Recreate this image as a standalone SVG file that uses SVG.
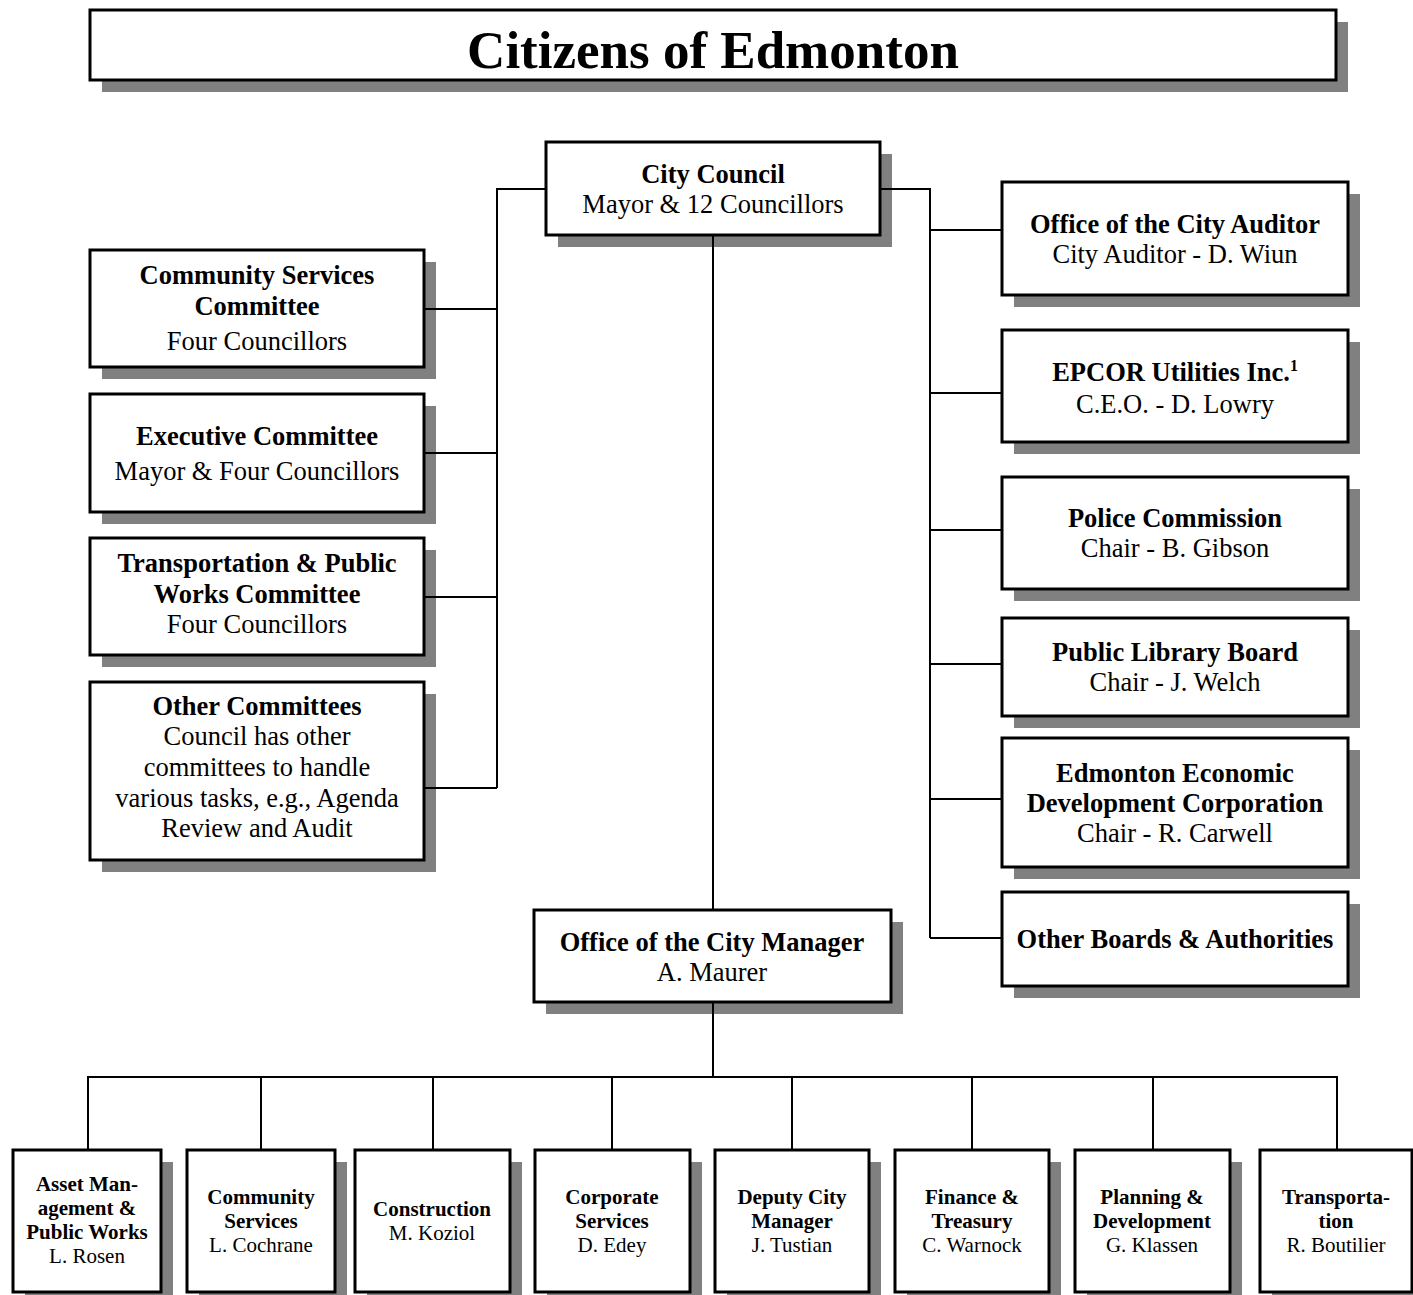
<svg xmlns="http://www.w3.org/2000/svg" width="1413" height="1295" viewBox="0 0 1413 1295">
<style>
.sh{fill:#808080;stroke:none}
.bx{fill:#fff;stroke:#000;stroke-width:3}
.ln{fill:none;stroke:#000;stroke-width:2}
text{font-family:"Liberation Serif","Times New Roman",serif;text-anchor:middle;fill:#000}
.t{font-size:26.5px}
.b{font-weight:bold}
.s{font-size:21px}
.title{font-size:53px;font-weight:bold}
</style>
<rect width="1413" height="1295" fill="#fff"/>
<g id="citizens">
<rect class="sh" x="102" y="22" width="1246" height="70"/>
<rect class="bx" x="90" y="10" width="1246" height="70"/>
<text class="title" x="713" y="68">Citizens of Edmonton</text>
</g>
<g id="city-council">
<rect class="sh" x="558" y="154" width="334" height="93"/>
<rect class="bx" x="546" y="142" width="334" height="93"/>
<text class="t b" x="713" y="183">City Council</text>
<text class="t" x="713" y="213">Mayor &amp; 12 Councillors</text>
</g>
<g id="community-services-committee">
<rect class="sh" x="102" y="262" width="334" height="117"/>
<rect class="bx" x="90" y="250" width="334" height="117"/>
<text class="t b" x="257" y="284">Community Services</text>
<text class="t b" x="257" y="315">Committee</text>
<text class="t" x="257" y="350">Four Councillors</text>
</g>
<g id="executive-committee">
<rect class="sh" x="102" y="406" width="334" height="118"/>
<rect class="bx" x="90" y="394" width="334" height="118"/>
<text class="t b" x="257" y="445">Executive Committee</text>
<text class="t" x="257" y="480">Mayor &amp; Four Councillors</text>
</g>
<g id="transportation-committee">
<rect class="sh" x="102" y="550" width="334" height="117"/>
<rect class="bx" x="90" y="538" width="334" height="117"/>
<text class="t b" x="257" y="572">Transportation &amp; Public</text>
<text class="t b" x="257" y="603">Works Committee</text>
<text class="t" x="257" y="633">Four Councillors</text>
</g>
<g id="other-committees">
<rect class="sh" x="102" y="694" width="334" height="178"/>
<rect class="bx" x="90" y="682" width="334" height="178"/>
<text class="t b" x="257" y="715">Other Committees</text>
<text class="t" x="257" y="745">Council has other</text>
<text class="t" x="257" y="776">committees to handle</text>
<text class="t" x="257" y="807">various tasks, e.g., Agenda</text>
<text class="t" x="257" y="837">Review and Audit</text>
</g>
<g id="city-auditor">
<rect class="sh" x="1014" y="194" width="346" height="113"/>
<rect class="bx" x="1002" y="182" width="346" height="113"/>
<text class="t b" x="1175" y="233">Office of the City Auditor</text>
<text class="t" x="1175" y="263">City Auditor - D. Wiun</text>
</g>
<g id="epcor">
<rect class="sh" x="1014" y="342" width="346" height="112"/>
<rect class="bx" x="1002" y="330" width="346" height="112"/>
<text class="t b" x="1175" y="381">EPCOR Utilities Inc.<tspan font-size="16" dy="-10">1</tspan></text>
<text class="t" x="1175" y="413">C.E.O. - D. Lowry</text>
</g>
<g id="police-commission">
<rect class="sh" x="1014" y="489" width="346" height="112"/>
<rect class="bx" x="1002" y="477" width="346" height="112"/>
<text class="t b" x="1175" y="527">Police Commission</text>
<text class="t" x="1175" y="557">Chair - B. Gibson</text>
</g>
<g id="library-board">
<rect class="sh" x="1014" y="630" width="346" height="98"/>
<rect class="bx" x="1002" y="618" width="346" height="98"/>
<text class="t b" x="1175" y="661">Public Library Board</text>
<text class="t" x="1175" y="691">Chair - J. Welch</text>
</g>
<g id="eedc">
<rect class="sh" x="1014" y="750" width="346" height="129"/>
<rect class="bx" x="1002" y="738" width="346" height="129"/>
<text class="t b" x="1175" y="782">Edmonton Economic</text>
<text class="t b" x="1175" y="812">Development Corporation</text>
<text class="t" x="1175" y="842">Chair - R. Carwell</text>
</g>
<g id="other-boards">
<rect class="sh" x="1014" y="904" width="346" height="94"/>
<rect class="bx" x="1002" y="892" width="346" height="94"/>
<text class="t b" x="1175" y="948">Other Boards &amp; Authorities</text>
</g>
<g id="city-manager">
<rect class="sh" x="546" y="922" width="357" height="92"/>
<rect class="bx" x="534" y="910" width="357" height="92"/>
<text class="t b" x="712" y="951">Office of the City Manager</text>
<text class="t" x="712" y="981">A. Maurer</text>
</g>
<g id="asset-management">
<rect class="sh" x="25" y="1162" width="148" height="142"/>
<rect class="bx" x="13" y="1150" width="148" height="142"/>
<text class="s b" x="87" y="1191">Asset Man-</text>
<text class="s b" x="87" y="1215">agement &amp;</text>
<text class="s b" x="87" y="1239">Public Works</text>
<text class="s" x="87" y="1263">L. Rosen</text>
</g>
<g id="community-services">
<rect class="sh" x="199" y="1162" width="148" height="142"/>
<rect class="bx" x="187" y="1150" width="148" height="142"/>
<text class="s b" x="261" y="1204">Community</text>
<text class="s b" x="261" y="1228">Services</text>
<text class="s" x="261" y="1252">L. Cochrane</text>
</g>
<g id="construction">
<rect class="sh" x="367" y="1162" width="155" height="142"/>
<rect class="bx" x="355" y="1150" width="155" height="142"/>
<text class="s b" x="432" y="1216">Construction</text>
<text class="s" x="432" y="1240">M. Koziol</text>
</g>
<g id="corporate-services">
<rect class="sh" x="547" y="1162" width="155" height="142"/>
<rect class="bx" x="535" y="1150" width="155" height="142"/>
<text class="s b" x="612" y="1204">Corporate</text>
<text class="s b" x="612" y="1228">Services</text>
<text class="s" x="612" y="1252">D. Edey</text>
</g>
<g id="deputy-city-manager">
<rect class="sh" x="727" y="1162" width="154" height="142"/>
<rect class="bx" x="715" y="1150" width="154" height="142"/>
<text class="s b" x="792" y="1204">Deputy City</text>
<text class="s b" x="792" y="1228">Manager</text>
<text class="s" x="792" y="1252">J. Tustian</text>
</g>
<g id="finance-treasury">
<rect class="sh" x="907" y="1162" width="154" height="142"/>
<rect class="bx" x="895" y="1150" width="154" height="142"/>
<text class="s b" x="972" y="1204">Finance &amp;</text>
<text class="s b" x="972" y="1228">Treasury</text>
<text class="s" x="972" y="1252">C. Warnock</text>
</g>
<g id="planning-development">
<rect class="sh" x="1087" y="1162" width="155" height="142"/>
<rect class="bx" x="1075" y="1150" width="155" height="142"/>
<text class="s b" x="1152" y="1204">Planning &amp;</text>
<text class="s b" x="1152" y="1228">Development</text>
<text class="s" x="1152" y="1252">G. Klassen</text>
</g>
<g id="transportation">
<rect class="sh" x="1272" y="1162" width="152" height="142"/>
<rect class="bx" x="1260" y="1150" width="152" height="142"/>
<text class="s b" x="1336" y="1204">Transporta-</text>
<text class="s b" x="1336" y="1228">tion</text>
<text class="s" x="1336" y="1252">R. Boutilier</text>
</g>
<g id="connectors">
<path class="ln" d="M547,189 H497 V788 M497,309 H425 M497,453 H425 M497,597 H425 M497,788 H425"/>
<path class="ln" d="M879,189 H930 V938 M930,230 H1001 M930,393 H1001 M930,530 H1001 M930,664 H1001 M930,799 H1001 M930,938 H1001"/>
<path class="ln" d="M713,236 V909 M713,1003 V1077 M88,1149 V1077 H1337 V1149 M261,1077 V1149 M433,1077 V1149 M612,1077 V1149 M792,1077 V1149 M972,1077 V1149 M1153,1077 V1149"/>
</g>
</svg>
